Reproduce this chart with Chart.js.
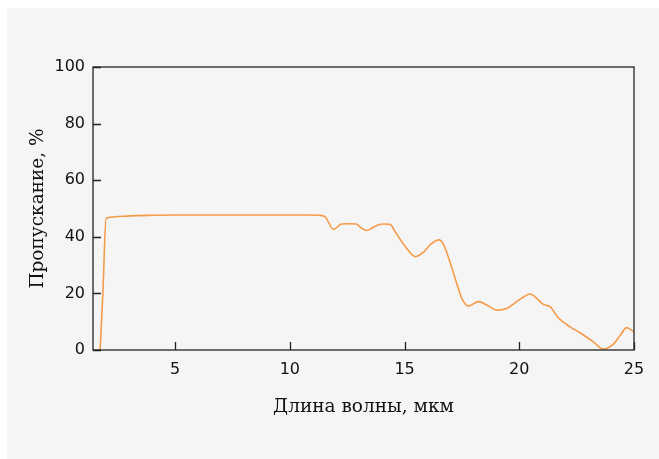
<!DOCTYPE html>
<html><head><meta charset="utf-8">
<script src="https://cdn.jsdelivr.net/npm/chart.js@4"></script>
<style>
html,body{margin:0;padding:0;background:#fff;}
#wrap{position:absolute;left:7px;top:8px;width:652px;height:451px;background:#f5f5f5;}
canvas{display:block;}
</style></head><body>
<div id="wrap"><canvas id="c" width="652" height="451"></canvas></div>
<script>
const wavelength = [1.73, 1.85, 1.99, 2.4, 3, 4, 5, 6, 7, 8, 9, 10, 10.8, 11.3, 11.55, 11.9, 12.25, 12.6, 12.9, 13.1, 13.35, 13.6, 13.85, 14.1, 14.37, 14.59, 15.04, 15.48, 15.84, 16.13, 16.5, 16.71, 17.0, 17.27, 17.49, 17.78, 18.22, 18.58, 19.02, 19.45, 19.89, 20.2, 20.47, 20.69, 21.05, 21.34, 21.7, 22.21, 22.65, 23.23, 23.66, 24.1, 24.4, 24.68, 24.97];
const transmission = [0, 20, 46.5, 47.1, 47.4, 47.6, 47.7, 47.7, 47.7, 47.7, 47.7, 47.7, 47.7, 47.6, 47.0, 42.6, 44.5, 44.6, 44.5, 43.2, 42.2, 43.2, 44.2, 44.5, 44.4, 41.8, 36.5, 33.0, 34.7, 37.3, 38.9, 37.1, 30.6, 23.6, 18.3, 15.5, 17.1, 15.9, 14.1, 14.7, 17.1, 18.8, 19.8, 18.8, 16.1, 15.3, 11.4, 8.2, 6.1, 2.9, 0.35, 2.1, 5.2, 7.9, 6.5];
const xTicks = [5, 10, 15, 20, 25];
const yTicks = [0, 20, 40, 60, 80, 100];
const xTitle = 'Длина волны, мкм';
const yTitle = 'Пропускание, %';

const boxAndTicks = {
  id: 'boxAndTicks',
  afterDraw(chart) {
    const {ctx, chartArea: a, scales: {x, y}} = chart;
    ctx.save();
    ctx.strokeStyle = '#222';
    ctx.lineWidth = 1.3;
    ctx.strokeRect(a.left, a.top, a.right - a.left, a.bottom - a.top);
    ctx.beginPath();
    xTicks.forEach(v => { const px = Math.round(x.getPixelForValue(v)) + 0.5; ctx.moveTo(px, a.bottom); ctx.lineTo(px, a.bottom - 8); });
    yTicks.forEach(v => { const py = Math.round(y.getPixelForValue(v)) + 0.5; ctx.moveTo(a.left, py); ctx.lineTo(a.left + 8, py); });
    ctx.stroke();
    ctx.restore();
  }
};

new Chart(document.getElementById('c'), {
  type: 'line',
  data: {
    datasets: [{
      data: wavelength.map((w, i) => ({x: w, y: transmission[i]})),
      borderColor: 'rgb(246,155,72)',
      borderWidth: 1.6,
      pointRadius: 0,
      fill: false,
      cubicInterpolationMode: 'monotone'
    }]
  },
  options: {
    responsive: false,
    animation: false,
    events: [],
    layout: {padding: {left: 0, top: 59, right: 25, bottom: 0}},
    plugins: {legend: {display: false}, tooltip: {enabled: false}},
    scales: {
      x: {
        type: 'linear', min: 1.42, max: 25,
        afterFit(s) { s.height = 109; },
        afterBuildTicks(s) { s.ticks = xTicks.map(v => ({value: v})); },
        grid: {display: false, drawTicks: false},
        border: {display: false},
        ticks: {color: '#111', padding: 10, font: {family: 'DejaVu Sans', size: 16}, maxRotation: 0},
        title: {display: true, text: xTitle, color: '#111', font: {family: 'DejaVu Serif', size: 18.5}, padding: {top: 0, bottom: 41}}
      },
      y: {
        min: 0, max: 100,
        afterFit(s) { s.width = 86; },
        afterBuildTicks(s) { s.ticks = yTicks.map(v => ({value: v})); },
        grid: {display: false, drawTicks: false},
        border: {display: false},
        ticks: {color: '#111', padding: 8, font: {family: 'DejaVu Sans', size: 16}},
        title: {display: true, text: yTitle, color: '#111', font: {family: 'DejaVu Serif', size: 18.5}, padding: {top: 20, bottom: 0}}
      }
    }
  },
  plugins: [boxAndTicks]
});
</script>
</body></html>
